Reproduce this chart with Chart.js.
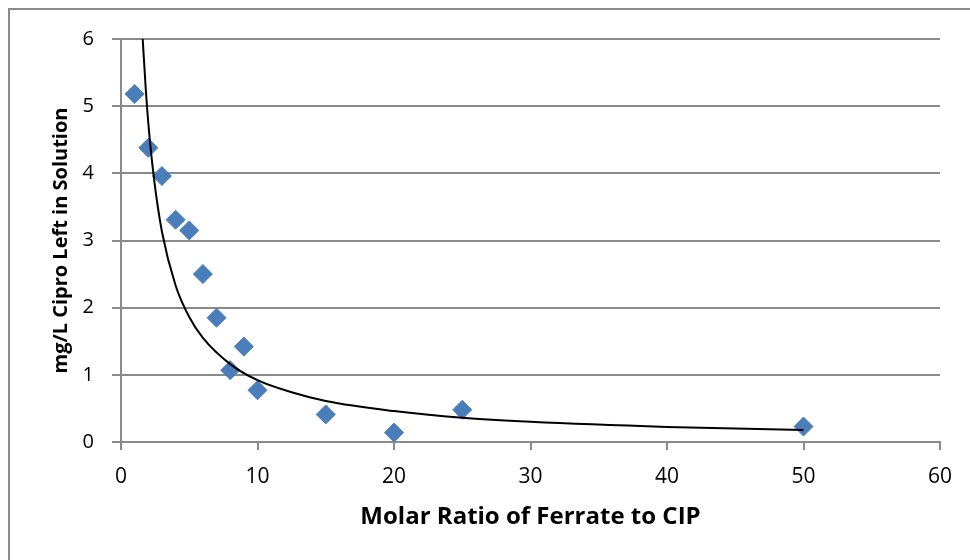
<!DOCTYPE html>
<html>
<head>
<meta charset="utf-8">
<script src="https://cdn.jsdelivr.net/npm/chart.js@4"></script>
<style>
  html, body { margin: 0; padding: 0; background: #fff; }
  #wrap { position: relative; width: 970px; height: 560px; }
</style>
</head>
<body>
<div id="wrap"><canvas id="cipChart" width="970" height="560"></canvas></div>
<script>
// 测量点：摩尔比 vs 剩余 Cipro 浓度
const ratioValues = [1, 2, 3, 4, 5, 6, 7, 8, 9, 10, 15, 20, 25, 50];
const ciproValues = [5.18, 4.38, 3.96, 3.31, 3.15, 2.50, 1.85, 1.07, 1.42, 0.77, 0.41, 0.14, 0.48, 0.23];

// 趋势线（读取的曲线点）
const trendX = [1.59, 1.8, 2, 2.4, 3, 4, 5, 6, 8, 10, 12.5, 15, 20, 25, 30, 40, 50];
const trendY = [6.0, 5.3, 4.75, 3.95, 3.13, 2.33, 1.86, 1.55, 1.16, 0.92, 0.74, 0.61, 0.46, 0.36, 0.30, 0.225, 0.18];

const xTicks = [0, 10, 20, 30, 40, 50, 60];
const yTicks = [0, 1, 2, 3, 4, 5, 6];

const gridGray = '#8a8a8a';
const markerBlue = '#4a7ebb';
const fontFamily = '"Open Sans", Lato, sans-serif';

// 外框
const framePlugin = {
    id: 'frame',
    beforeDraw(chart) {
        const c = chart.ctx;
        c.save();
        c.strokeStyle = '#8a8a8a';
        c.lineWidth = 2;
        c.strokeRect(9, 9, 1000, 1000);
        c.restore();
    }
};

const ctx = document.getElementById('cipChart');
new Chart(ctx, {
    type: 'scatter',
    data: {
        datasets: [
            {
                label: 'Cipro',
                data: ratioValues.map((x, i) => ({ x: x, y: ciproValues[i] })),
                pointStyle: 'rectRot',
                pointRadius: 9.5,
                backgroundColor: markerBlue,
                borderColor: markerBlue,
                borderWidth: 1,
                order: 2
            },
            {
                label: 'Trend',
                type: 'line',
                data: trendX.map((x, i) => ({ x: x, y: trendY[i] })),
                borderColor: '#000',
                borderWidth: 2,
                pointRadius: 0,
                fill: false,
                cubicInterpolationMode: 'monotone',
                order: 1
            }
        ]
    },
    options: {
        responsive: false,
        animation: false,
        layout: { padding: { left: 0, right: 30, top: 39, bottom: 0 } },
        plugins: {
            legend: { display: false },
            tooltip: { enabled: false }
        },
        scales: {
            x: {
                type: 'linear',
                min: 0,
                max: 60,
                afterBuildTicks: (scale) => { scale.ticks = xTicks.map(v => ({ value: v })); },
                afterFit: (scale) => { scale.height = 118; },
                border: { color: gridGray, width: 2 },
                grid: {
                    drawOnChartArea: false,
                    drawTicks: true,
                    tickLength: 8,
                    color: gridGray,
                    lineWidth: 2
                },
                ticks: {
                    color: '#000',
                    padding: 14,
                    maxRotation: 0,
                    font: { family: fontFamily, size: 21 }
                },
                title: {
                    display: true,
                    text: 'Molar Ratio of Ferrate to CIP',
                    color: '#000',
                    padding: { top: 0, bottom: 28 },
                    font: { family: fontFamily, size: 24, weight: 'bold' }
                }
            },
            y: {
                type: 'linear',
                min: 0,
                max: 6,
                afterBuildTicks: (scale) => { scale.ticks = yTicks.map(v => ({ value: v })); },
                afterFit: (scale) => { scale.width = 121; },
                border: { color: gridGray, width: 2 },
                grid: {
                    drawTicks: true,
                    tickLength: 9,
                    color: gridGray,
                    lineWidth: 2
                },
                ticks: {
                    color: '#000',
                    padding: 18,
                    font: { family: fontFamily, size: 20 }
                },
                title: {
                    display: true,
                    text: 'mg/L Cipro Left in Solution',
                    color: '#000',
                    padding: { top: 49, bottom: 0 },
                    font: { family: fontFamily, size: 20, weight: 'bold' }
                }
            }
        }
    },
    plugins: [framePlugin]
});
</script>
</body>
</html>
